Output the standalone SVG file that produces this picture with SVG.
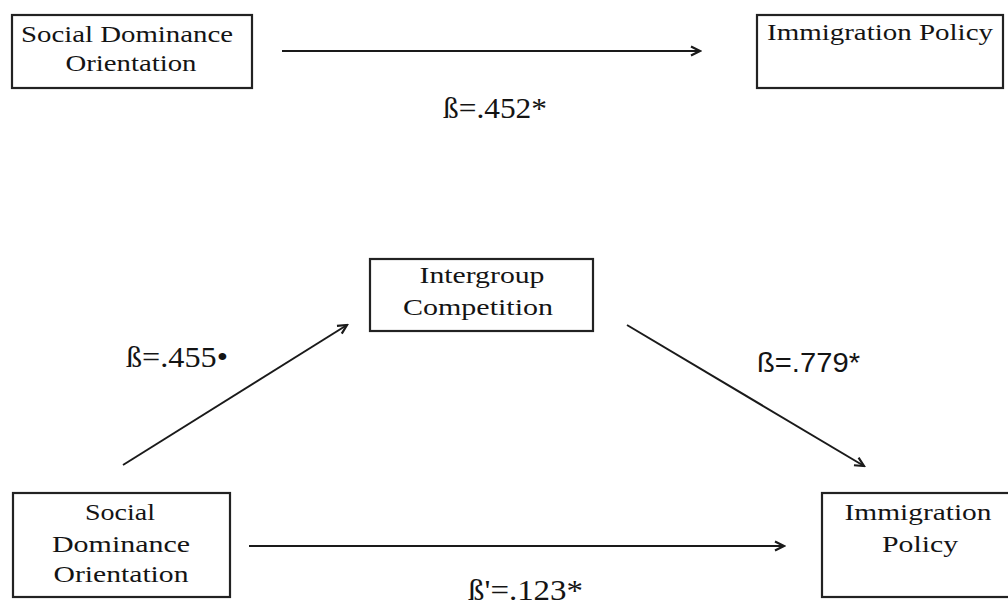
<svg xmlns="http://www.w3.org/2000/svg" width="1008" height="606" viewBox="0 0 1008 606">
  <defs>
    <marker id="arrow" markerUnits="userSpaceOnUse" markerWidth="14" markerHeight="14" viewBox="0 0 14 14" refX="12" refY="7" orient="auto">
      <path d="M3,2.5 L12,7 L3,11.5" fill="none" stroke="#1a1a1a" stroke-width="2.2" stroke-linejoin="miter"/>
    </marker>
    <style>
      .box { fill: #ffffff; stroke: #222222; stroke-width: 2.2; }
      .lbl { font-family: "Liberation Serif", "Times New Roman", serif; font-size: 23px; fill: #141414; text-anchor: middle; }
      .beta { font-family: "Liberation Serif", "Times New Roman", serif; font-size: 29px; fill: #141414; }
      .beta-sans { font-family: "Liberation Sans", Arial, sans-serif; font-size: 27px; fill: #141414; }
      .edge { stroke: #1a1a1a; stroke-width: 2; fill: none; marker-end: url(#arrow); }
    </style>
  </defs>
  <rect width="1008" height="606" fill="#ffffff"/>

  <!-- total effect model -->
  <g id="sdo-top">
    <rect class="box" x="12" y="15" width="240" height="73"/>
    <text class="lbl" x="127" y="42" textLength="212" lengthAdjust="spacingAndGlyphs">Social Dominance</text>
    <text class="lbl" x="131" y="71" textLength="131" lengthAdjust="spacingAndGlyphs">Orientation</text>
  </g>
  <g id="policy-top">
    <rect class="box" x="757" y="15" width="246" height="73"/>
    <text class="lbl" x="880" y="40" textLength="226" lengthAdjust="spacingAndGlyphs">Immigration Policy</text>
  </g>

  <!-- mediation model -->
  <g id="competition">
    <rect class="box" x="370" y="259" width="223" height="72"/>
    <text class="lbl" x="482" y="283" textLength="125" lengthAdjust="spacingAndGlyphs">Intergroup</text>
    <text class="lbl" x="478" y="315" textLength="150" lengthAdjust="spacingAndGlyphs">Competition</text>
  </g>
  <g id="sdo-bottom">
    <rect class="box" x="13" y="493" width="217" height="104"/>
    <text class="lbl" x="120" y="520" textLength="70" lengthAdjust="spacingAndGlyphs">Social</text>
    <text class="lbl" x="121" y="552" textLength="138" lengthAdjust="spacingAndGlyphs">Dominance</text>
    <text class="lbl" x="121" y="582" textLength="135" lengthAdjust="spacingAndGlyphs">Orientation</text>
  </g>
  <g id="policy-bottom">
    <rect class="box" x="822" y="493" width="200" height="104"/>
    <text class="lbl" x="918" y="520" textLength="147" lengthAdjust="spacingAndGlyphs">Immigration</text>
    <text class="lbl" x="920" y="552" textLength="76" lengthAdjust="spacingAndGlyphs">Policy</text>
  </g>

  <g id="connectors">
    <line class="edge" x1="282" y1="51" x2="700" y2="51"/>
    <line class="edge" x1="123" y1="465" x2="347" y2="325"/>
    <line class="edge" x1="627" y1="325" x2="864" y2="466"/>
    <line class="edge" x1="249" y1="546" x2="784" y2="546"/>
  </g>

  <g id="coefficients">
    <text class="beta" x="443" y="118" textLength="104" lengthAdjust="spacingAndGlyphs">ß=.452*</text>
    <text class="beta" x="126" y="367" textLength="102" lengthAdjust="spacingAndGlyphs">ß=.455•</text>
    <text class="beta-sans" x="757" y="372" textLength="103" lengthAdjust="spacingAndGlyphs">ß=.779*</text>
    <text class="beta" x="468" y="600" font-size="27" textLength="115" lengthAdjust="spacingAndGlyphs">ß'=.123*</text>
  </g>
</svg>
